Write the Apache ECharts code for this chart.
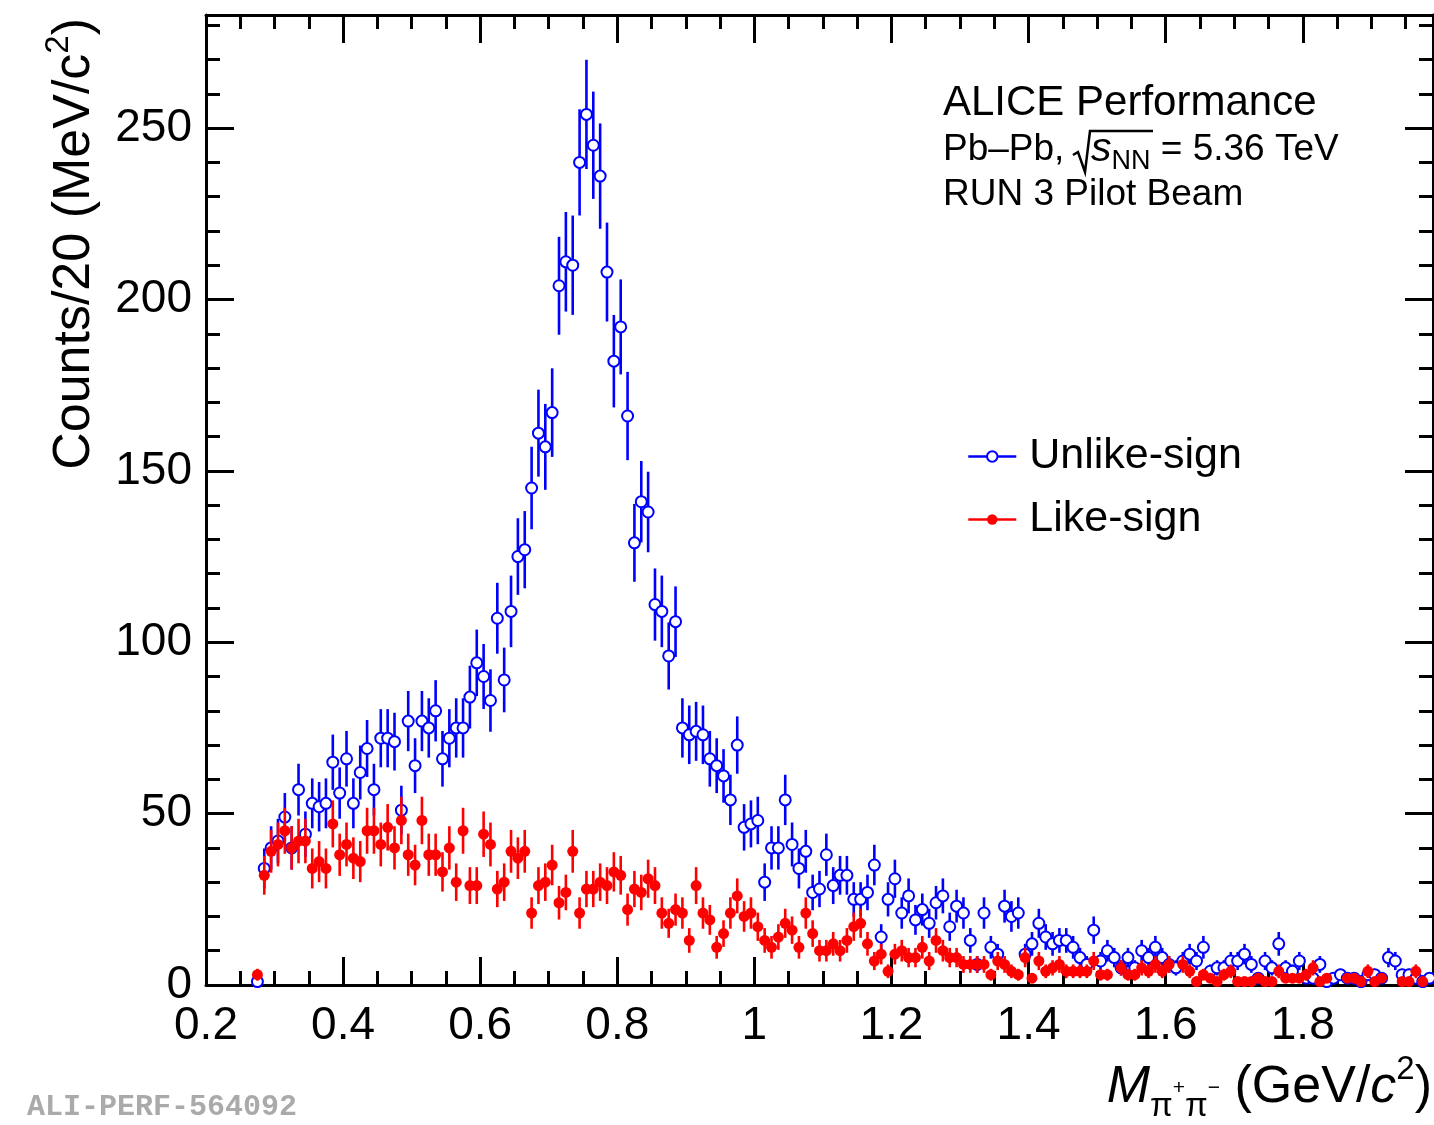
<!DOCTYPE html>
<html><head><meta charset="utf-8">
<script src="https://cdn.jsdelivr.net/npm/echarts@6.0.0/dist/echarts.min.js"></script>
<style>html,body{margin:0;padding:0;background:#fff}#c{width:1434px;height:1125px}</style>
</head><body><div id="c"></div>
<script>
// Histogram binning (GeV/c^2)
const binLow = 0.27;
const binWidth = 0.01;

// Unlike-sign counts per bin
const unlikeSign = [
  1, 34, 40, 42, 49, 40, 57, 44, 53, 52,
  53, 65, 56, 66, 53, 62, 69, 57, 72, 72,
  71, 51, 77, 64, 77, 75, 80, 66, 72, 75,
  75, 84, 94, 90, 83, 107, 89, 109, 125, 127,
  145, 161, 157, 167, 204, 211, 210, 240, 254, 245,
  236, 208, 182, 192, 166, 129, 141, 138, 111, 109,
  96, 106, 75, 73, 74, 73, 66, 64, 61, 54,
  70, 46, 47, 48, 30, 40, 40, 54, 41, 34,
  39, 27, 28, 38, 29, 32, 32, 25, 25, 27,
  35, 14, 25, 31, 21, 26, 19, 22, 18, 24,
  26, 17, 23, 21, 13, 6, 21, 11, 9, 23,
  20, 21, 9, 12, 18, 14, 12, 13, 13, 11,
  8, 6, 16, 7, 10, 8, 5, 8, 5, 10,
  8, 11, 8, 6, 5, 7, 9, 7, 11, 4,
  5, 5, 7, 7, 9, 6, 2, 7, 5, 12,
  5, 4, 7, 2, 2, 6, 1, 2, 3, 2,
  2, 1, 3, 3, 2, 8, 7, 3, 3, 2, 1, 2
];

// Like-sign counts per bin (null = empty bin, not drawn)
const likeSign = [
  3, 32, 39, 41, 45, 40, 42, 42, 34, 36,
  34, 47, 38, 41, 37, 36, 45, 45, 41, 46,
  40, 48, 38, 35, 48, 38, 38, 33, 40, 30,
  45, 29, 29, 44, 41, 28, 30, 39, 37, 39,
  21, 29, 30, 35, 24, 27, 39, 21, 28, 28,
  30, 29, 33, 32, 22, 28, 27, 31, 29, 21,
  18, 22, 21, 13, 29, 21, 19, 11, 15, 21,
  26, 20, 21, 17, 13, 11, 14, 18, 16, 11,
  21, 15, 10, 10, 12, 10, 13, 17, 18, 12,
  7, 9, 4, 9, 10, 8, 8, 11, 7, 13,
  10, 8, 8, 6, 6, 6, 6, 3, 7, 6,
  4, 3, 8, 2, 7, 4, 5, 6, 4, 4,
  4, 4, 7, 3, 3, null, 5, 3, 3, 5,
  4, 6, 4, 6, null, 6, 4, 1, 3, 2,
  1, 3, 4, 1, 1, 1, 2, 1, 1, 4,
  2, 2, 2, 3, 5, 1, 2, null, null, 2,
  2, 1, 4, 1, 2, null, null, 1, 1, 4, 1, null
];

const seriesNames = ['Unlike-sign', 'Like-sign'];
const xRange = [0.2, 1.99];
const yRange = [0, 283];
const xMajor = 0.2, xMinor = 0.05;
const yMajor = 50, yMinor = 10;

const massCenters = unlikeSign.map((_, i) => +(binLow + binWidth * (i + 0.5)).toFixed(4));

const FONT = '"Liberation Sans", Arial, Helvetica, sans-serif';
const BLUE = '#0000ff', RED = '#ff0000';

function pts(values) {
  const out = [];
  values.forEach((v, i) => { if (v != null) out.push([massCenters[i], v]); });
  return out;
}
function errSeries(values, color, z) {
  return {
    type: 'custom', silent: true, z: z, clip: true, animation: false,
    xAxisIndex: 0, yAxisIndex: 0,
    data: pts(values).map(p => [p[0], p[1], Math.sqrt(p[1])]),
    encode: { x: 0, y: 1 },
    renderItem(params, api) {
      const x = api.value(0), y = api.value(1), e = api.value(2);
      const a = api.coord([x, y - e]), b = api.coord([x, y + e]);
      return { type: 'line', shape: { x1: a[0], y1: a[1], x2: b[0], y2: b[1] },
               style: { stroke: color, lineWidth: 2.6 } };
    }
  };
}

const axisCommon = (min, max) => ({ type: 'value', min, max, splitLine: { show: false } });
const lineBlk = { color: '#000', width: 3 };

const option = {
  animation: false,
  backgroundColor: '#fff',
  grid: [
    { left: 206, right: 1, top: 15, bottom: 140 },
    { left: 206, right: 1, top: 15, bottom: 140 }
  ],
  xAxis: [
    Object.assign(axisCommon(xRange[0], xRange[1]), { gridIndex: 0, position: 'bottom', interval: xMajor,
      axisLine: { show: true, onZero: false, lineStyle: lineBlk },
      axisTick: { show: true, inside: true, length: 28, lineStyle: lineBlk },
      axisLabel: { show: true, margin: 18, fontSize: 46, fontFamily: FONT, color: '#000', showMaxLabel: false } }),
    Object.assign(axisCommon(xRange[0], xRange[1]), { gridIndex: 0, position: 'top', interval: xMajor,
      axisLine: { show: true, onZero: false, lineStyle: lineBlk },
      axisTick: { show: true, inside: true, length: 28, lineStyle: lineBlk },
      axisLabel: { show: false } }),
    Object.assign(axisCommon(xRange[0], xRange[1]), { gridIndex: 1, position: 'bottom', interval: xMinor,
      axisLine: { show: false, onZero: false },
      axisTick: { show: true, inside: true, length: 14, lineStyle: lineBlk },
      axisLabel: { show: false } }),
    Object.assign(axisCommon(xRange[0], xRange[1]), { gridIndex: 1, position: 'top', interval: xMinor,
      axisLine: { show: false, onZero: false },
      axisTick: { show: true, inside: true, length: 14, lineStyle: lineBlk },
      axisLabel: { show: false } })
  ],
  yAxis: [
    Object.assign(axisCommon(yRange[0], yRange[1]), { gridIndex: 0, position: 'left', interval: yMajor,
      axisLine: { show: true, onZero: false, lineStyle: lineBlk },
      axisTick: { show: true, inside: true, length: 28, lineStyle: lineBlk },
      axisLabel: { show: true, margin: 14, fontSize: 46, fontFamily: FONT, color: '#000', showMaxLabel: false } }),
    Object.assign(axisCommon(yRange[0], yRange[1]), { gridIndex: 0, position: 'right', interval: yMajor,
      axisLine: { show: true, onZero: false, lineStyle: lineBlk },
      axisTick: { show: true, inside: true, length: 28, lineStyle: lineBlk },
      axisLabel: { show: false } }),
    Object.assign(axisCommon(yRange[0], yRange[1]), { gridIndex: 1, position: 'left', interval: yMinor,
      axisLine: { show: false, onZero: false },
      axisTick: { show: true, inside: true, length: 14, lineStyle: lineBlk },
      axisLabel: { show: false } }),
    Object.assign(axisCommon(yRange[0], yRange[1]), { gridIndex: 1, position: 'right', interval: yMinor,
      axisLine: { show: false, onZero: false },
      axisTick: { show: true, inside: true, length: 14, lineStyle: lineBlk },
      axisLabel: { show: false } })
  ],
  legend: {
    orient: 'vertical', left: 962, top: 430, itemWidth: 48, itemHeight: 13, itemGap: 20,
    selectedMode: false,
    textStyle: { fontSize: 43, fontFamily: FONT, color: '#000', padding: [0, 0, 0, 8] },
    data: [
      { name: seriesNames[0], lineStyle: { width: 2.5, opacity: 1, color: BLUE, type: 'solid' } },
      { name: seriesNames[1], lineStyle: { width: 2.5, opacity: 1, color: RED, type: 'solid' } }
    ]
  },
  series: [
    errSeries(unlikeSign, BLUE, 2),
    { type: 'line', name: seriesNames[0], xAxisIndex: 0, yAxisIndex: 0, data: pts(unlikeSign),
      symbol: 'emptyCircle', symbolSize: 11, showSymbol: true, showAllSymbol: true,
      lineStyle: { width: 0, opacity: 0 }, itemStyle: { color: BLUE, borderWidth: 2.5 },
      emphasis: { disabled: true }, silent: true, z: 3, clip: true },
    errSeries(likeSign, RED, 4),
    { type: 'line', name: seriesNames[1], xAxisIndex: 0, yAxisIndex: 0, data: pts(likeSign),
      symbol: 'circle', symbolSize: 11, showSymbol: true, showAllSymbol: true,
      lineStyle: { width: 0, opacity: 0 }, itemStyle: { color: RED },
      emphasis: { disabled: true }, silent: true, z: 5, clip: true }
  ],
  graphic: [
    { type: 'text', x: 75, y: 18, rotation: Math.PI / 2, silent: true,
      style: { text: 'Counts/20 (MeV/c{sup|2})', fontSize: 52, fontFamily: FONT, fill: '#000',
        textAlign: 'right', textVerticalAlign: 'middle', lineHeight: 66,
        rich: { sup: { fontSize: 33, lineHeight: 33, verticalAlign: 'top', fontFamily: FONT } } } },
    { type: 'text', x: 1432, y: 1088, silent: true,
      style: { text: '{mi|M}{sub|π}{ss|+}{sub|π}{ss|−} (GeV/{ci|c}{sup|2})', fontSize: 52, fontFamily: FONT, fill: '#000',
        textAlign: 'right', textVerticalAlign: 'middle', lineHeight: 70,
        rich: {
          mi: { fontSize: 52, fontStyle: 'italic', fontFamily: FONT },
          ci: { fontSize: 52, fontStyle: 'italic', fontFamily: FONT },
          sub: { fontSize: 33, lineHeight: 33, verticalAlign: 'bottom', fontFamily: FONT },
          ss: { fontSize: 21, lineHeight: 21, verticalAlign: 'middle', fontFamily: FONT },
          sup: { fontSize: 33, lineHeight: 33, verticalAlign: 'top', fontFamily: FONT }
        } } },
    { type: 'text', x: 943, y: 103, silent: true,
      style: { text: 'ALICE Performance', fontSize: 42, fontFamily: FONT, fill: '#000', textAlign: 'left', textVerticalAlign: 'middle' } },
    { type: 'text', x: 943, y: 150, silent: true,
      style: { text: 'Pb–Pb,', fontSize: 37, fontFamily: FONT, fill: '#000', textAlign: 'left', textVerticalAlign: 'middle' } },
    { type: 'polyline', silent: true,
      shape: { points: [[1073, 155], [1078, 152], [1085, 172], [1090, 131], [1153, 131]] },
      style: { stroke: '#000', lineWidth: 2.5, fill: null } },
    { type: 'text', x: 1091, y: 150, silent: true,
      style: { text: '{si|s}{nn|NN} = 5.36 TeV', fontSize: 37, fontFamily: FONT, fill: '#000', textAlign: 'left', textVerticalAlign: 'middle', lineHeight: 50,
        rich: { si: { fontSize: 41, fontStyle: 'italic', fontFamily: FONT },
                nn: { fontSize: 27, lineHeight: 27, verticalAlign: 'bottom', fontFamily: FONT } } } },
    { type: 'text', x: 943, y: 195, silent: true,
      style: { text: 'RUN 3 Pilot Beam', fontSize: 37, fontFamily: FONT, fill: '#000', textAlign: 'left', textVerticalAlign: 'middle' } },
    { type: 'text', x: 27, y: 1107, silent: true,
      style: { text: 'ALI-PERF-564092', fontSize: 30, fontWeight: 'bold', fontFamily: '"Liberation Mono", "DejaVu Sans Mono", monospace', fill: '#aaaaaa', textAlign: 'left', textVerticalAlign: 'middle' } }
  ]
};

const chart = echarts.init(document.getElementById('c'), null, { renderer: 'canvas' });
chart.setOption(option);
</script>
</body></html>
